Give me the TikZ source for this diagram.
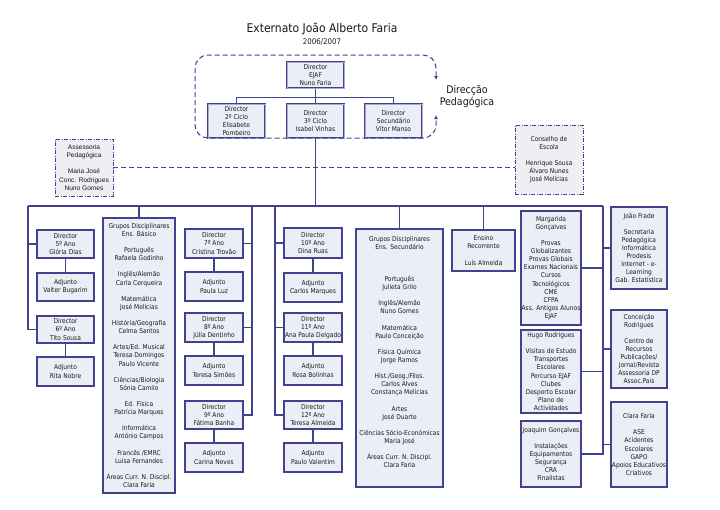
\documentclass[tikz,border=0pt]{standalone}
\usepackage{fontspec}
\setmainfont{DejaVu Sans Condensed}
\newfontfamily\arialf{Liberation Sans}
\usetikzlibrary{arrows.meta}
\definecolor{ln}{RGB}{66,66,145}
\definecolor{bf}{RGB}{236,238,247}
\definecolor{gf}{RGB}{238,238,243}
\tikzset{
  box/.style={draw=ln, line width=1.4pt, fill=bf, align=center, inner sep=0.5pt,
    font=\fontsize{6.6}{8.1}\selectfont, text=black!90},
  topbox/.style={box, line width=1pt, double=ln!45!white, double distance=0.9pt},
  dbox/.style={box, line width=0.9pt, dash pattern=on 4pt off 1.5pt on 1pt off 1.5pt, fill=gf},
  conn/.style={draw=ln, line width=1.1pt},
  dline/.style={draw=ln, line width=1pt, dash pattern=on 5pt off 3pt},
}
\newcommand\bx[7][box]{\node[#1, minimum width={(#5-#3)*1pt}, minimum height={(#6-#4)*1pt}] (#2) at ({(#3+#5)/2},{(#4+#6)/2}) {#7};}
\begin{document}
\begin{tikzpicture}[x=1pt,y=-1pt]
\fill[white] (0,0) rectangle (720,509);
\useasboundingbox (0,0) rectangle (720,509);

\node[font=\fontsize{12}{13}\selectfont, text=black!90] (title) at (322,29) {Externato João Alberto Faria};
\node[font=\fontsize{7.8}{9}\selectfont, text=black!90] (year) at (322,42) {2006/2007};
\node[align=center, font=\fontsize{10.5}{12}\selectfont, text=black!90] (dp) at (467,97) {Direcção\\Pedagógica};

% top boxes
\bx[topbox]{ejaf}{287}{62}{344}{88}{Director\\EJAF\\Nuno Faria}
\bx[topbox]{c2}{208}{104}{265}{138}{Director\\2º Ciclo\\Elisabete\\Pombeiro}
\bx[topbox]{c3}{287}{104}{344}{138}{Director\\3º Ciclo\\Isabel Vinhas}
\bx[topbox]{cs}{365}{104}{422}{138}{Director\\Secundário\\Vítor Manso}

\bx[dbox,font=\arialf\fontsize{6.6}{8.1}\selectfont]{ass}{55}{139}{113}{196}{Assessoria\\Pedagógica\\[8.1pt]Maria José\\Conc. Rodrigues\\Nuno Gomes}
\bx[dbox]{ce}{515}{125}{583}{194}{Conselho de\\Escola\\[8.1pt]Henrique Sousa\\Álvaro Nunes\\José Melícias}

% left column
\bx{d5}{37}{230}{94}{258}{Director\\5º Ano\\Glória Dias}
\bx{a5}{37}{273}{94}{301}{Adjunto\\Valter Bugarim}
\bx{d6}{37}{316}{94}{343}{Director\\6º Ano\\Tito Sousa}
\bx{a6}{37}{357}{94}{386}{Adjunto\\Rita Nobre}
\bx{gb}{103}{218}{175}{493}{Grupos Disciplinares\\Ens. Básico\\[8.1pt]Português\\Rafaela Godinho\\[8.1pt]Inglês/Alemão\\Carla Cerqueira\\[8.1pt]Matemática\\José Melícias\\[8.1pt]História/Geografia\\Celma Santos\\[8.1pt]Artes/Ed. Musical\\Teresa Domingos\\Paulo Vicente\\[8.1pt]Ciências/Biologia\\Sónia Camilo\\[8.1pt]Ed. Física\\Patrícia Marques\\[8.1pt]Informática\\António Campos\\[8.1pt]Francês /EMRC\\Luísa Fernandes\\[8.1pt]Áreas Curr. N. Discipl.\\Clara Faria}

% 7-9
\bx{d7}{185}{229}{243}{258}{Director\\7º Ano\\Cristina Trovão}
\bx{a7}{185}{272}{243}{301}{Adjunto\\Paula Luz}
\bx{d8}{185}{313}{243}{342}{Director\\8º Ano\\Júlia Dentinho}
\bx{a8}{185}{356}{243}{385}{Adjunto\\Teresa Simões}
\bx{d9}{185}{401}{243}{429}{Director\\9º Ano\\Fátima Banha}
\bx{a9}{185}{443}{243}{472}{Adjunto\\Carina Neves}

% 10-12
\bx{d10}{284}{228}{342}{258}{Director\\10º Ano\\Dina Ruas}
\bx{a10}{284}{273}{342}{302}{Adjunto\\Carlos Marques}
\bx{d11}{284}{313}{342}{342}{Director\\11º Ano\\Ana Paula Delgado}
\bx{a11}{284}{356}{342}{385}{Adjunto\\Rosa Bolinhas}
\bx{d12}{284}{401}{342}{429}{Director\\12º Ano\\Teresa Almeida}
\bx{a12}{284}{443}{342}{472}{Adjunto\\Paulo Valentim}

\bx{gs}{356}{229}{443}{487}{Grupos Disciplinares\\Ens. Secundário\\[24.3pt]Português\\Julieta Grilo\\[8.1pt]Inglês/Alemão\\Nuno Gomes\\[8.1pt]Matemática\\Paulo Conceição\\[8.1pt]Física Química\\Jorge Ramos\\[8.1pt]Hist./Geog./Filos.\\Carlos Alves\\Constança Melícias\\[8.1pt]Artes\\José Duarte\\[8.1pt]Ciências Sócio-Económicas\\Maria José\\[8.1pt]Áreas Curr. N. Discipl.\\Clara Faria\\[4pt]}

\bx{er}{452}{230}{515}{271}{Ensino\\Recorrente\\[8.1pt]Luís Almeida}

\bx{mg}{521}{211}{581}{325}{Margarida\\Gonçalves\\[8.1pt]Provas\\Globalizantes\\Provas Globais\\Exames Nacionais\\Cursos\\Tecnológicos\\CME\\CFPA\\Ass. Antigos Alunos\\EJAF}
\bx{hr}{521}{330}{581}{413}{Hugo Rodrigues\\[8.1pt]Visitas de Estudo\\Transportes\\Escolares\\Percurso EJAF\\Clubes\\Desporto Escolar\\Plano de\\Actividades}
\bx{jg}{521}{421}{581}{487}{Joaquim Gonçalves\\[8.1pt]Instalações\\Equipamentos\\Segurança\\CRA\\Finalistas}
\bx{jf}{611}{207}{667}{289}{João Frade\\[8.1pt]Secretaria\\Pedagógica\\Informática\\Prodesis\\Internet - e-\\Learning\\Gab. Estatística}
\bx{cr}{611}{310}{667}{388}{Conceição\\Rodrigues\\[8.1pt]Centro de\\Recursos\\Publicações/\\Jornal/Revista\\Assessoria DP\\Assoc.Pais}
\bx{cf}{611}{402}{667}{487}{Clara Faria\\[8.1pt]ASE\\Acidentes\\Escolares\\GAPO\\Apoios Educativos\\Criativos}

% coordinates
\coordinate (bL) at (28,206);
\coordinate (bR) at (603,206);
\coordinate (c79) at (252,206);
\coordinate (c1012) at (275,206);
\coordinate (dpa) at (436,80);
\coordinate (dpb) at (436,115);
\coordinate (dtr) at (436,55);
\coordinate (dtl) at (195,55);
\coordinate (dbl) at (195,138);
\coordinate (dbr) at (436,138);

% connectors
\draw[conn] (ejaf.south) -- (c3.north);
\draw[conn] (ejaf.south) ++(0,9) -| (c2.north);
\draw[conn] (ejaf.south) ++(0,9) -| (cs.north);
\draw[conn] (c3.south) -- (c3.south |- bL);
\draw[conn] (bL) -- (bR);
\draw[conn] (bL) |- (d5.west);
\draw[conn] (bL) |- (d6.west);
\draw[conn] (d5.south) -- (a5.north);
\draw[conn] (d6.south) -- (a6.north);
\draw[conn] (gb.north) -- (gb.north |- bL);
\draw[conn] (c79) |- (d7.east);
\draw[conn] (c79) |- (d8.east);
\draw[conn] (c79) |- (d9.east);
\draw[conn] (d7.south) -- (a7.north);
\draw[conn] (d8.south) -- (a8.north);
\draw[conn] (d9.south) -- (a9.north);
\draw[conn] (c1012) |- (d10.west);
\draw[conn] (c1012) |- (d11.west);
\draw[conn] (c1012) |- (d12.west);
\draw[conn] (d10.south) -- (a10.north);
\draw[conn] (d11.south) -- (a11.north);
\draw[conn] (d12.south) -- (a12.north);
\draw[conn] (gs.north) -- (gs.north |- bL);
\draw[conn] (er.north) -- (er.north |- bL);
\draw[conn] (bR) |- (mg.east);
\draw[conn] (bR) |- (hr.east);
\draw[conn] (bR) |- (jg.east);
\draw[conn] (bR) |- (jf.west);
\draw[conn] (bR) |- (cr.west);
\draw[conn] (bR) |- (cf.west);

\draw[dline] (ass.east) -- (ass.east -| ce.west);
\draw[dline, rounded corners=13pt, {Latex[length=4pt,width=4pt]}-{Latex[length=4pt,width=4pt]}]
  (dpa) -- (dtr) -- (dtl) -- (dbl) -- (dbr) -- (dpb);
\end{tikzpicture}
\end{document}
